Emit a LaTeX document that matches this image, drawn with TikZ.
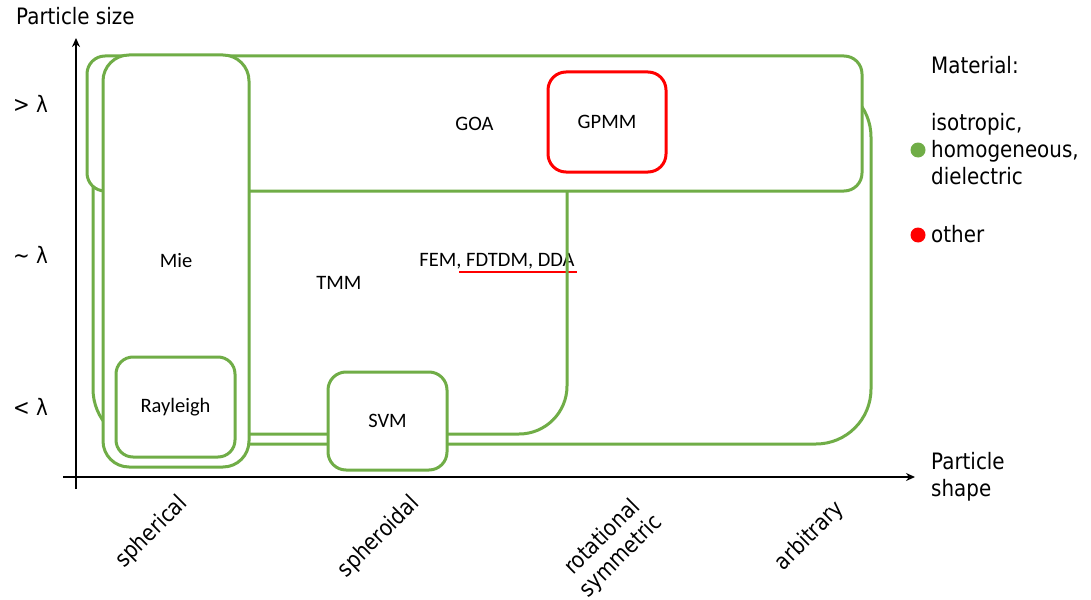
\documentclass[tikz,border=0pt]{standalone}
\usepackage{fontspec}
\setmainfont{Carlito}
\newfontfamily\tah[FakeStretch=0.88]{DejaVu Sans}
\usetikzlibrary{arrows.meta}
\definecolor{grn}{HTML}{70AD47}
\definecolor{rd}{HTML}{FF0000}
\begin{document}
\begin{tikzpicture}[x=1pt,y=-1pt,
  region/.style={draw=grn, line width=3pt, fill=white, inner sep=0pt, font=\fontsize{20.5}{24}\selectfont},
  redregion/.style={region, draw=rd},
  inlabel/.style={inner sep=0pt, font=\fontsize{20.5}{24}\selectfont},
  outlabel/.style={inner sep=0pt, font=\tah\fontsize{22.6}{26.5}\selectfont},
  axis/.style={line width=2pt, -{Stealth[length=9pt,width=8pt]}},
  dot/.style={circle, inner sep=0pt, minimum size=15pt}]
\useasboundingbox (0,0) rectangle (1091,599);
% regions
\node[region, rounded corners=55pt, minimum width=778pt, minimum height=362pt] (arb) at (482,263) {};
\node[inlabel] (fem) at (497,261) {FEM, FDTDM, DDA};
\coordinate (ul1) at (459,272);
\coordinate (ul2) at (577,272);
\draw[rd, line width=1.6pt] (ul1) -- (ul2);
\node[region, fill=none, rounded corners=48pt, minimum width=457pt, minimum height=334pt] (tmm) at (338.5,267) {};
\node[inlabel] (tmml) at (339,283) {TMM};
\node[region, rounded corners=18pt, minimum width=775pt, minimum height=135pt] (goa) at (474.5,123.5) {GOA};
\node[region, rounded corners=26pt, minimum width=146pt, minimum height=412pt] (mie) at (176,261) {Mie};
\node[region, rounded corners=17pt, minimum width=119pt, minimum height=100pt] (ray) at (175.5,407) {Rayleigh};
\node[region, rounded corners=18pt, minimum width=119pt, minimum height=98pt] (svm) at (387.5,421) {SVM};
\node[redregion, rounded corners=18pt, minimum width=118pt, minimum height=100pt] (gpmm) at (607,122) {GPMM};
% axes
\coordinate (yb) at (76,489);
\coordinate (yt) at (76,38);
\coordinate (xl) at (63,477);
\coordinate (xr) at (915,477);
\draw[axis] (yb) -- (yt);
\draw[axis] (xl) -- (xr);
\node[outlabel, anchor=base west] (ysz) at (16,25) {Particle size};
\node[outlabel, anchor=base west] (gt) at (13,113) {> λ};
\node[outlabel, anchor=base west] (eq) at (13,263) {\char"223C{} λ};
\node[outlabel, anchor=base west] (lt) at (13,415) {< λ};
\node[outlabel, anchor=base west] (xs1) at (931,469) {Particle};
\node[outlabel, anchor=base west] (xs2) at (931,496) {shape};
% shape labels
\node[outlabel, rotate=45] (sph) at (152,532) {spherical};
\node[outlabel, rotate=45] (spd) at (379,537) {spheroidal};
\node[outlabel, rotate=45, align=center] (rot) at (612,547) {rotational\\symmetric};
\node[outlabel, rotate=45] (arbl) at (810,536) {arbitrary};
% legend
\node[outlabel, anchor=base west] (mat) at (931,74) {Material:};
\node[outlabel, anchor=base west] (iso) at (931,131) {isotropic,};
\node[outlabel, anchor=base west] (hom) at (931,157.5) {homogeneous,};
\node[outlabel, anchor=base west] (die) at (931,184) {dielectric};
\node[outlabel, anchor=base west] (oth) at (931,242) {other};
\node[dot, fill=grn] (dg) at (918,150) {};
\node[dot, fill=rd] (dr) at (918,235) {};
\end{tikzpicture}
\end{document}
